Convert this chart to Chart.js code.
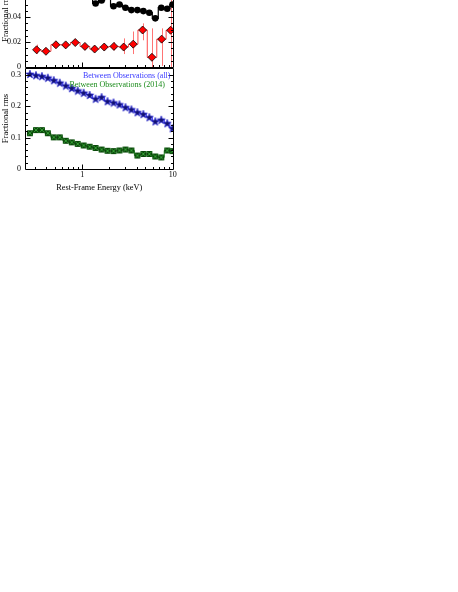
<!DOCTYPE html>
<html>
<head>
<meta charset="utf-8">
<script src="https://cdn.jsdelivr.net/npm/chart.js@4.4.0/dist/chart.umd.min.js"></script>
<style>
html,body{margin:0;padding:0;background:#fff;overflow:hidden;width:458px;height:592px;}
#wrapTop{position:absolute;left:0;top:-41px;width:180px;height:113px;}
#wrapBot{position:absolute;left:0;top:60px;width:180px;height:140px;}
canvas{display:block;}
</style>
</head>
<body>
<div id="wrapTop"><canvas id="topChart" width="180" height="113"></canvas></div>
<div id="wrapBot"><canvas id="botChart" width="180" height="140"></canvas></div>
<script>
// ---------------- DATA ----------------
// Energy grid (keV) for the fine-binned spectra (black, blue, green)
const energyFine = [0.264,0.308,0.358,0.417,0.485,0.565,0.658,0.766,0.891,1.037,1.207,1.405,1.636,1.904,2.216,2.580,3.003,3.495,4.069,4.736,5.513,6.417,7.469,8.695,9.95];
// Energy grid (keV) for the coarse-binned red spectrum
const energyCoarse = [0.313,0.397,0.512,0.656,0.837,1.071,1.371,1.75,2.24,2.87,3.66,4.65,5.89,7.54,9.48];

// Top panel: black series (only the part visible in the crop; 1.207 and 1.904 keV run off the top)
const blackEnergy = [1.207,1.405,1.636,1.904,2.216,2.580,3.003,3.495,4.069,4.736,5.513,6.417,7.469,8.695,9.95];
const blackRms    = [0.060,0.0509,0.0532,0.058,0.0487,0.0501,0.0475,0.0456,0.0456,0.0448,0.0435,0.0390,0.0475,0.0467,0.0500];

// Top panel: red series with error bars
const redRms   = [0.0139,0.0127,0.0179,0.0178,0.0197,0.0166,0.0145,0.0161,0.0166,0.0161,0.0184,0.0297,0.0079,0.0224,0.0295];
const redErrLo = [0.0105,0.0105,0.0155,0.0160,0.0178,0.0148,0.0128,0.0135,0.0135,0.0105,0.0105,0.0215,0.0000,0.0010,0.0000];
const redErrHi = [0.0180,0.0150,0.0200,0.0198,0.0212,0.0185,0.0165,0.0185,0.0200,0.0230,0.0285,0.0350,0.0310,0.0310,0.0700];

// Bottom panel
const allRms  = [0.303,0.299,0.296,0.291,0.283,0.275,0.266,0.258,0.250,0.243,0.236,0.224,0.229,0.216,0.212,0.206,0.197,0.190,0.181,0.175,0.165,0.152,0.157,0.146,0.130];
const y2014Rms = [0.114,0.124,0.124,0.114,0.101,0.101,0.090,0.085,0.080,0.075,0.071,0.067,0.062,0.058,0.057,0.059,0.062,0.059,0.043,0.048,0.048,0.040,0.037,0.059,0.057];

const seriesLabels = ['Between Observations (all)', 'Between Observations (2014)'];

// Axis ticks
const xMajorTicks = [1, 10];
const xMinorTicks = [0.3,0.4,0.5,0.6,0.7,0.8,0.9,2,3,4,5,6,7,8,9];
const yTopMajor = [0, 0.02, 0.04, 0.06, 0.08];
const yTopMinor = [0.005,0.01,0.015,0.025,0.03,0.035,0.045,0.05,0.055,0.065,0.07,0.075];
const yBotMajor = [0, 0.1, 0.2, 0.3];
const yBotMinor = [0.02,0.04,0.06,0.08,0.12,0.14,0.16,0.18,0.22,0.24,0.26,0.28];

// ---------------- STYLE ----------------
const FONT = '"Liberation Serif", "Times New Roman", serif';
Chart.defaults.font.family = FONT;
Chart.defaults.font.size = 8;
Chart.defaults.color = '#000';

function toXY(xs, ys){ return xs.map((x,i)=>({x:x, y:ys[i]})); }

function starImg(){
  const c=document.createElement('canvas'); c.width=10; c.height=10;
  const g=c.getContext('2d');
  g.beginPath();
  for(let i=0;i<10;i++){
    const r = (i%2) ? 1.8 : 4.3;
    const a = -Math.PI/2 + i*Math.PI/5;
    g.lineTo(5 + r*Math.cos(a), 5.4 + r*Math.sin(a));
  }
  g.closePath();
  g.fillStyle='#12126e'; g.fill();
  g.strokeStyle='#2a2ad8'; g.lineWidth=0.7; g.stroke();
  return c;
}
function boxXImg(){
  const c=document.createElement('canvas'); c.width=8; c.height=8;
  const g=c.getContext('2d');
  g.fillStyle='#0b460b'; g.fillRect(1,1,6,6);
  g.strokeStyle='#33a033'; g.lineWidth=1;
  g.beginPath(); g.moveTo(1.5,1.5); g.lineTo(6.5,6.5); g.moveTo(6.5,1.5); g.lineTo(1.5,6.5); g.stroke();
  return c;
}

function framePlugin(yMajor, yMinor, drawTop){
  return {
    id: 'frame',
    afterDraw(chart){
      const ctx = chart.ctx, a = chart.chartArea;
      const xs = chart.scales.x, ys = chart.scales.y;
      const L = Math.round(a.left)+0.5, R = Math.round(a.right)-0.5, B = Math.round(a.bottom)+0.5, T = Math.round(a.top)+0.5;
      ctx.save();
      ctx.strokeStyle = '#000'; ctx.lineWidth = 1;
      ctx.beginPath();
      ctx.moveTo(L, T); ctx.lineTo(L, B); ctx.lineTo(R, B); ctx.lineTo(R, T);
      if (drawTop) ctx.lineTo(L, T);
      ctx.stroke();
      ctx.beginPath();
      const xt = (v, len) => { const p = Math.round(xs.getPixelForValue(v))+0.5; if (p < L+1 || p > R-1) return; ctx.moveTo(p, B); ctx.lineTo(p, B-len); };
      xMajorTicks.forEach(v => xt(v, 5));
      xMinorTicks.forEach(v => xt(v, 2.5));
      const yt = (v, len) => { const p = Math.round(ys.getPixelForValue(v))+0.5; if (p < T+1 || p > B-1) return; ctx.moveTo(L, p); ctx.lineTo(L+len, p); ctx.moveTo(R, p); ctx.lineTo(R-len, p); };
      yMajor.forEach(v => yt(v, 5));
      yMinor.forEach(v => yt(v, 2.5));
      ctx.stroke();
      ctx.restore();
    }
  };
}

const errorBarPlugin = {
  id: 'errbars',
  beforeDatasetsDraw(chart){
    const ctx = chart.ctx, a = chart.chartArea;
    const xs = chart.scales.x, ys = chart.scales.y;
    ctx.save();
    ctx.beginPath(); ctx.rect(a.left, a.top, a.right-a.left, a.bottom-a.top); ctx.clip();
    ctx.strokeStyle = 'rgba(255,70,70,0.75)'; ctx.lineWidth = 1;
    ctx.beginPath();
    energyCoarse.forEach((e,i) => {
      const px = Math.round(xs.getPixelForValue(e)) + 0.5;
      ctx.moveTo(px, ys.getPixelForValue(redErrLo[i]));
      ctx.lineTo(px, ys.getPixelForValue(redErrHi[i]));
    });
    ctx.stroke();
    ctx.restore();
  }
};

const legendTextPlugin = {
  id: 'legendText',
  afterDraw(chart){
    const ctx = chart.ctx;
    ctx.save();
    ctx.font = '8px ' + FONT;
    ctx.textAlign = 'right'; ctx.textBaseline = 'middle';
    ctx.fillStyle = '#3a3aff';
    ctx.fillText(seriesLabels[0], 170.5, 15.8);
    ctx.fillStyle = '#1c8c1c';
    ctx.fillText(seriesLabels[1], 165, 25.2);
    ctx.restore();
  }
};

const xScaleBase = {
  type: 'logarithmic',
  min: 0.233, max: 10.2,
  grid: { display: false, drawTicks: false },
  border: { display: false },
};

function yAxis(min, max, major, titleText){
  return {
    type: 'linear', min: min, max: max,
    grid: { display: false, drawTicks: false },
    border: { display: false },
    afterBuildTicks: s => { s.ticks = major.map(v => ({ value: v })); },
    afterFit: s => { s.width = 25; s.paddingTop = 0; s.paddingBottom = 0; },
    ticks: { padding: 4, font: { size: 8 }, callback: v => String(Math.round(v*1000)/1000) },
    title: { display: true, text: titleText, font: { size: 8.5, lineHeight: 1 }, padding: { top: 1.5, bottom: 0 } }
  };
}

// ---------------- TOP PANEL ----------------
new Chart(document.getElementById('topChart'), {
  type: 'line',
  data: {
    datasets: [
      {
        data: toXY(energyCoarse, redRms),
        borderColor: '#ff4a4a', borderWidth: 1, stepped: 'middle',
        pointStyle: 'rectRot', pointRadius: 4, pointBackgroundColor: '#ff0000',
        pointBorderColor: '#000', pointBorderWidth: 0.8
      },
      {
        data: toXY(blackEnergy, blackRms),
        borderColor: '#000', borderWidth: 1.2, stepped: 'middle',
        pointStyle: 'circle', pointRadius: 3.3, pointBackgroundColor: '#000',
        pointBorderColor: '#000', pointBorderWidth: 0
      }
    ]
  },
  options: {
    responsive: false, animation: false, devicePixelRatio: 1, events: [],
    layout: { padding: { left: 0, right: 6.5, top: 8, bottom: 4 } },
    plugins: { legend: { display: false }, tooltip: { enabled: false } },
    scales: {
      x: Object.assign({}, xScaleBase, { display: false }),
      y: yAxis(0, 0.08, yTopMajor, 'Fractional rms')
    }
  },
  plugins: [errorBarPlugin, framePlugin(yTopMajor, yTopMinor, true)]
});

// ---------------- BOTTOM PANEL ----------------
new Chart(document.getElementById('botChart'), {
  type: 'line',
  data: {
    datasets: [
      {
        label: seriesLabels[0],
        data: toXY(energyFine, allRms),
        borderColor: '#3333ff', borderWidth: 1, stepped: 'middle',
        pointStyle: starImg(), pointRadius: 5
      },
      {
        label: seriesLabels[1],
        data: toXY(energyFine, y2014Rms),
        borderColor: '#1f8f1f', borderWidth: 1, stepped: 'middle',
        pointStyle: boxXImg(), pointRadius: 4
      }
    ]
  },
  options: {
    responsive: false, animation: false, devicePixelRatio: 1, events: [],
    layout: { padding: { left: 0, right: 6.5, top: 8, bottom: 0 } },
    plugins: { legend: { display: false }, tooltip: { enabled: false } },
    scales: {
      x: Object.assign({}, xScaleBase, {
        afterBuildTicks: s => { s.ticks = xMajorTicks.map(v => ({ value: v })); },
        afterFit: s => { s.height = 31; s.paddingLeft = 0; s.paddingRight = 0; },
        ticks: { padding: 1, maxRotation: 0, autoSkip: false, font: { size: 8 }, callback: v => String(v) },
        title: { display: true, text: 'Rest-Frame Energy (keV)', font: { size: 8.3, lineHeight: 1 }, padding: { top: 0, bottom: 8.5 } }
      }),
      y: yAxis(0, 0.322, yBotMajor, 'Fractional rms')
    }
  },
  plugins: [framePlugin(yBotMajor, yBotMinor, true), legendTextPlugin]
});
</script>
</body>
</html>
